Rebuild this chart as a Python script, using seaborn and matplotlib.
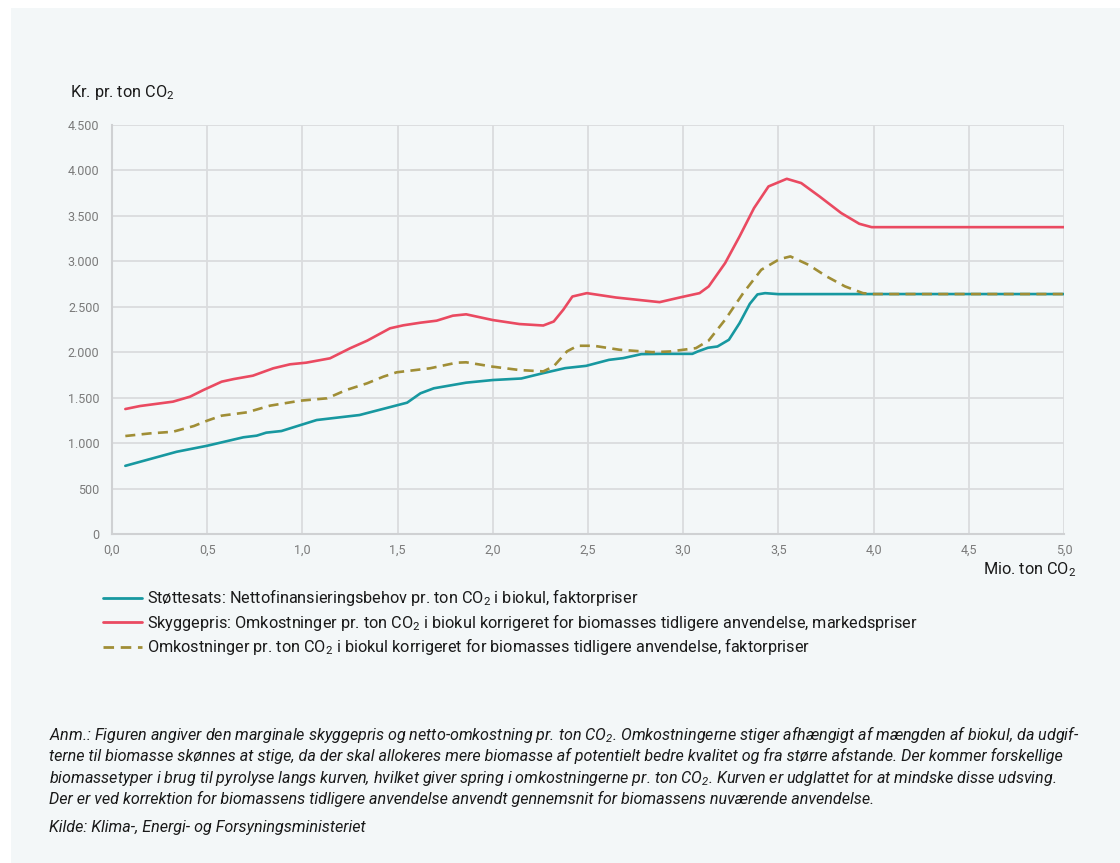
import matplotlib
matplotlib.use("Agg")
import matplotlib.pyplot as plt
import seaborn as sns
import pandas as pd
from matplotlib.patches import Rectangle
from matplotlib.lines import Line2D

# ---- data ----
stotte_x = [0.07, 0.34, 0.50, 0.69, 0.76, 0.81, 0.89, 1.075, 1.30, 1.55, 1.62, 1.69, 1.86, 2.0, 2.15,
            2.265, 2.38, 2.49, 2.61, 2.685, 2.78, 2.895, 3.048, 3.076, 3.13, 3.18, 3.24, 3.296, 3.35,
            3.39, 3.43, 3.5, 4.0, 4.5, 5.0]
stotte_y = [750, 905, 971, 1064, 1082, 1115, 1133, 1254, 1309, 1445, 1548, 1603, 1665, 1694, 1711,
            1770, 1825, 1850, 1916, 1935, 1979, 1982, 1982, 2008, 2049, 2063, 2137, 2320, 2533,
            2636, 2650, 2639, 2640, 2640, 2640]

skygge_x = [0.07, 0.147, 0.32, 0.41, 0.48, 0.576, 0.64, 0.74, 0.847, 0.935, 1.02, 1.145, 1.25, 1.34,
            1.46, 1.53, 1.62, 1.705, 1.79, 1.86, 2.0, 2.14, 2.265, 2.32, 2.37, 2.418, 2.494, 2.647,
            2.876, 2.99, 3.086, 3.134, 3.22, 3.296, 3.372, 3.448, 3.544, 3.62, 3.716, 3.83, 3.925,
            3.99, 4.5, 5.0]
skygge_y = [1375, 1408, 1456, 1511, 1584, 1676, 1705, 1742, 1823, 1867, 1885, 1933, 2043, 2127,
            2263, 2296, 2325, 2347, 2402, 2417, 2354, 2310, 2294, 2338, 2467, 2613, 2650, 2602,
            2551, 2606, 2650, 2724, 2980, 3274, 3586, 3824, 3908, 3861, 3714, 3531, 3413,
            3376, 3376, 3376]

omk_x = [0.07, 0.2, 0.32, 0.43, 0.50, 0.576, 0.71, 0.83, 0.99, 1.13, 1.23, 1.34, 1.425, 1.495, 1.67,
         1.81, 1.86, 2.0, 2.14, 2.265, 2.32, 2.39, 2.446, 2.53, 2.666, 2.838, 2.93, 3.067, 3.134,
         3.22, 3.315, 3.41, 3.506, 3.563, 3.658, 3.753, 3.85, 3.944, 4.0, 4.5, 5.0]
omk_y = [1078, 1107, 1125, 1188, 1247, 1302, 1339, 1412, 1467, 1493, 1584, 1658, 1731, 1779, 1823,
         1885, 1889, 1841, 1804, 1789, 1845, 2010, 2071, 2071, 2027, 2001, 2008, 2045, 2129,
         2357, 2650, 2907, 3024, 3054, 2962, 2834, 2724, 2650, 2640, 2640, 2640]

series_names = [
    "Støttesats: Nettofinansieringsbehov pr. ton CO$_2$ i biokul, faktorpriser",
    "Skyggepris: Omkostninger pr. ton CO$_2$ i biokul korrigeret for biomasses tidligere anvendelse, markedspriser",
    "Omkostninger pr. ton CO$_2$ i biokul korrigeret for biomasses tidligere anvendelse, faktorpriser",
]
x_ticks = [0.0, 0.5, 1.0, 1.5, 2.0, 2.5, 3.0, 3.5, 4.0, 4.5, 5.0]
x_ticklabels = ["0,0", "0,5", "1,0", "1,5", "2,0", "2,5", "3,0", "3,5", "4,0", "4,5", "5,0"]
y_ticks = [0, 500, 1000, 1500, 2000, 2500, 3000, 3500, 4000, 4500]
y_ticklabels = ["0", "500", "1.000", "1.500", "2.000", "2.500", "3.000", "3.500", "4.000", "4.500"]

note_lines = [
    "Anm.: Figuren angiver den marginale skyggepris og netto-omkostning pr. ton CO$_2$. Omkostningerne stiger afhængigt af mængden af biokul, da udgif-",
    "terne til biomasse skønnes at stige, da der skal allokeres mere biomasse af potentielt bedre kvalitet og fra større afstande. Der kommer forskellige",
    "biomassetyper i brug til pyrolyse langs kurven, hvilket giver spring i omkostningerne pr. ton CO$_2$. Kurven er udglattet for at mindske disse udsving.",
    "Der er ved korrektion for biomassens tidligere anvendelse anvendt gennemsnit for biomassens nuværende anvendelse.",
]
source = "Kilde: Klima-, Energi- og Forsyningsministeriet"

# ---- style ----
sns.set_theme(style="white")
plt.rcParams["font.family"] = ["Roboto", "DejaVu Sans"]
plt.rcParams["mathtext.fontset"] = "custom"
plt.rcParams["mathtext.rm"] = "Roboto"
plt.rcParams["mathtext.it"] = "Roboto:italic"
plt.rcParams["mathtext.default"] = "regular"

BG = "#f3f7f8"
TEAL = "#1798a0"
RED = "#ea4a61"
OLIVE = "#a08e36"
GRID = "#dadcde"

W, H = 1120, 863
fig = plt.figure(figsize=(W / 100, H / 100), dpi=100, facecolor="white")
fig.patches.append(Rectangle((11 / W, 0), 1 - 11 / W, 1 - 8 / H, transform=fig.transFigure,
                             facecolor=BG, edgecolor="none", zorder=-10))

ax = fig.add_axes([112 / W, 1 - 534 / H, (1064 - 112) / W, (534 - 125) / H])
ax.set_facecolor(BG)

df1 = pd.DataFrame({"x": stotte_x, "y": stotte_y})
df2 = pd.DataFrame({"x": skygge_x, "y": skygge_y})
df3 = pd.DataFrame({"x": omk_x, "y": omk_y})

lw = 1.9
DASH = (0, (3.8, 2.4))
sns.lineplot(data=df2, x="x", y="y", ax=ax, color=RED, lw=lw, sort=False, zorder=3)
sns.lineplot(data=df1, x="x", y="y", ax=ax, color=TEAL, lw=lw, sort=False, zorder=3)
sns.lineplot(data=df3, x="x", y="y", ax=ax, color=OLIVE, lw=lw, sort=False, zorder=4,
             dashes=False, linestyle=DASH)

ax.set_xlim(0, 5.0)
ax.set_ylim(0, 4500)
ax.set_xticks(x_ticks)
ax.set_xticklabels(x_ticklabels)
ax.set_yticks(y_ticks)
ax.set_yticklabels(y_ticklabels)
ax.tick_params(axis="both", length=0, labelsize=9, labelcolor="#7a7a7a")
ax.tick_params(axis="x", pad=7)
ax.tick_params(axis="y", pad=9)
ax.grid(True, color=GRID, lw=1.3)
for s in ["top", "right"]:
    ax.spines[s].set_visible(False)
for s in ["left", "bottom"]:
    ax.spines[s].set_color("#cfd1d3")
    ax.spines[s].set_linewidth(1.5)
ax.set_xlabel("")
ax.set_ylabel("")

fig.text(70 / W, 1 - 93 / H, "Kr. pr. ton CO$_2$", fontsize=11.7, color="#1a1a1a", va="center", ha="left")
fig.text(1076 / W, 1 - 570 / H, "Mio. ton CO$_2$", fontsize=11.7, color="#1a1a1a", va="center", ha="right")

handles = [
    Line2D([], [], color=TEAL, lw=2),
    Line2D([], [], color=RED, lw=2),
    Line2D([], [], color=OLIVE, lw=2, linestyle=DASH),
]
fig.legend(handles, series_names, loc="upper left", bbox_to_anchor=(100 / W, 1 - 584 / H),
           frameon=False, fontsize=11.7, handlelength=2.4, handletextpad=0.28,
           labelspacing=0.22, borderaxespad=0, borderpad=0.2, labelcolor="#1a1a1a")

y0 = 734
for i, line in enumerate(note_lines):
    fig.text(49 / W, 1 - (y0 + 21.5 * i) / H, line, fontsize=11.6, style="italic",
             color="#1a1a1a", va="center", ha="left")
fig.text(49 / W, 1 - 827 / H, source, fontsize=11.6, style="italic", color="#1a1a1a",
         va="center", ha="left")

fig.savefig("out.png", dpi=100, facecolor="white")
